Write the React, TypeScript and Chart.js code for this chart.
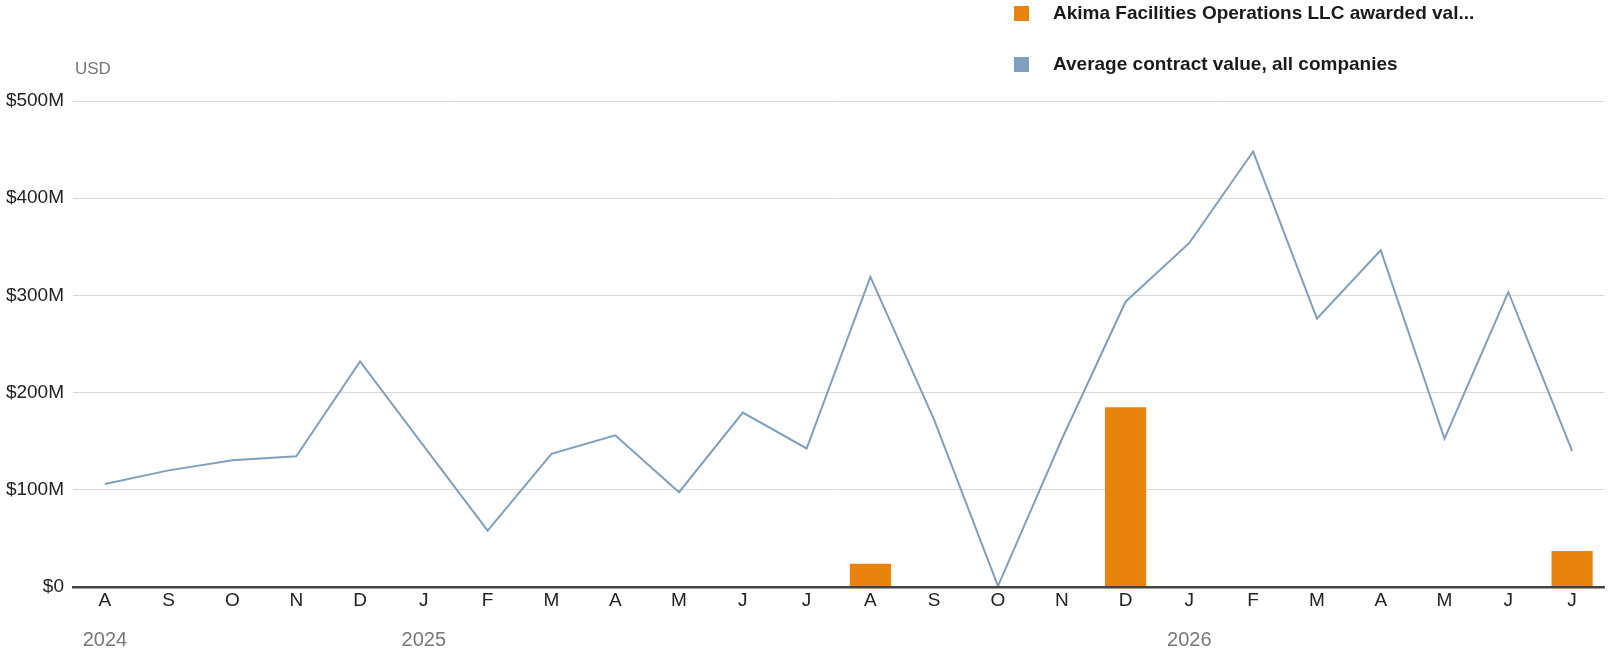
import { useEffect, useRef } from "react"
import { Chart, registerables } from "chart.js"

Chart.register(...registerables)

// Monthly categories, Aug 2024 - Jul 2026
const months = ["A", "S", "O", "N", "D", "J", "F", "M", "A", "M", "J", "J", "A", "S", "O", "N", "D", "J", "F", "M", "A", "M", "J", "J"]
const yearLabels = ["2024", "", "", "", "", "2025", "", "", "", "", "", "", "", "", "", "", "", "2026", "", "", "", "", "", ""]

// values in millions of USD
const akimaAwarded = [null, null, null, null, null, null, null, null, null, null, null, null, 24, null, null, null, 185, null, null, null, null, null, null, 37]
const averageContract = [106, 120, 130.5, 134.5, 232, 145, 58, 137, 156, 97.5, 179.5, 142.5, 319, 172, 1, 152, 293.5, 354, 448, 276, 346.5, 152.5, 303.5, 140]

const yTicks = [0, 100, 200, 300, 400, 500]

const ORANGE = "#e8830c"
const BLUE = "#7f9fbf"
const FONT = "'Liberation Sans', Arial, sans-serif"

export default function App() {
  const chartRef = useRef<HTMLCanvasElement>(null)
  const chartInstance = useRef<Chart | null>(null)

  useEffect(() => {
    if (!chartRef.current) return
    if (chartInstance.current) chartInstance.current.destroy()

    const ctx = chartRef.current.getContext("2d")
    if (!ctx) return

    chartInstance.current = new Chart(ctx, {
      type: "bar",
      data: {
        labels: months,
        datasets: [
          {
            type: "line",
            label: "Average contract value, all companies",
            data: averageContract.map((v) => v * 1e6),
            borderColor: BLUE,
            borderWidth: 2,
            pointRadius: 0,
            tension: 0,
            fill: false,
          },
          {
            type: "bar",
            label: "Akima Facilities Operations LLC awarded val...",
            data: akimaAwarded.map((v) => (v == null ? null : v * 1e6)),
            backgroundColor: ORANGE,
            barPercentage: 0.645,
            categoryPercentage: 1,
          },
        ],
      },
      options: {
        responsive: true,
        maintainAspectRatio: false,
        animation: false,
        layout: { padding: { top: 101, right: 6, left: 0, bottom: 0 } },
        plugins: {
          legend: { display: false },
          tooltip: { enabled: false },
        },
        scales: {
          x: {
            position: "bottom",
            grid: { display: false, drawTicks: false },
            border: { display: true, color: "#444", width: 2.5, z: 1 },
            ticks: {
              color: "#222",
              font: { family: FONT, size: 19 },
              padding: 2,
              autoSkip: false,
              maxRotation: 0,
            },
            afterFit: (scale) => {
              scale.height = 35
            },
          },
          x2: {
            type: "category",
            position: "bottom",
            labels: yearLabels,
            grid: { display: false, drawTicks: false },
            border: { display: false },
            ticks: {
              color: "#777",
              font: { family: FONT, size: 20 },
              padding: 6,
              autoSkip: false,
              maxRotation: 0,
            },
            afterFit: (scale) => {
              scale.height = 34
            },
          },
          y: {
            min: 0,
            max: 500e6,
            afterBuildTicks: (scale) => {
              scale.ticks = yTicks.map((v) => ({ value: v * 1e6 }))
            },
            grid: { color: "#d9d9d9", lineWidth: 1, drawTicks: false },
            border: { display: false },
            ticks: {
              color: "#222",
              font: { family: FONT, size: 19 },
              padding: 9,
              callback: (v) => (Number(v) === 0 ? "$0" : `$${Number(v) / 1e6}M`),
            },
            afterFit: (scale) => {
              scale.width = 73
            },
          },
        },
      },
    })

    return () => {
      if (chartInstance.current) {
        chartInstance.current.destroy()
        chartInstance.current = null
      }
    }
  }, [])

  const legendText = {
    position: "absolute" as const,
    left: 1053,
    fontFamily: FONT,
    fontWeight: 700,
    fontSize: 19,
    color: "#1a1a1a",
    whiteSpace: "nowrap" as const,
    lineHeight: "22px",
  }

  return (
    <div style={{ position: "absolute", left: 0, top: 0, width: 1610, height: 656, background: "#fff" }}>
      <canvas ref={chartRef}></canvas>
      <div style={{ position: "absolute", left: 1014, top: 6, width: 15, height: 15, background: ORANGE }} />
      <div style={{ ...legendText, top: 2 }}>Akima Facilities Operations LLC awarded val...</div>
      <div style={{ position: "absolute", left: 1014, top: 57, width: 15, height: 15, background: BLUE }} />
      <div style={{ ...legendText, top: 53 }}>Average contract value, all companies</div>
      <div style={{ position: "absolute", left: 75, top: 59, fontFamily: FONT, fontSize: 17, color: "#777" }}>USD</div>
    </div>
  )
}
